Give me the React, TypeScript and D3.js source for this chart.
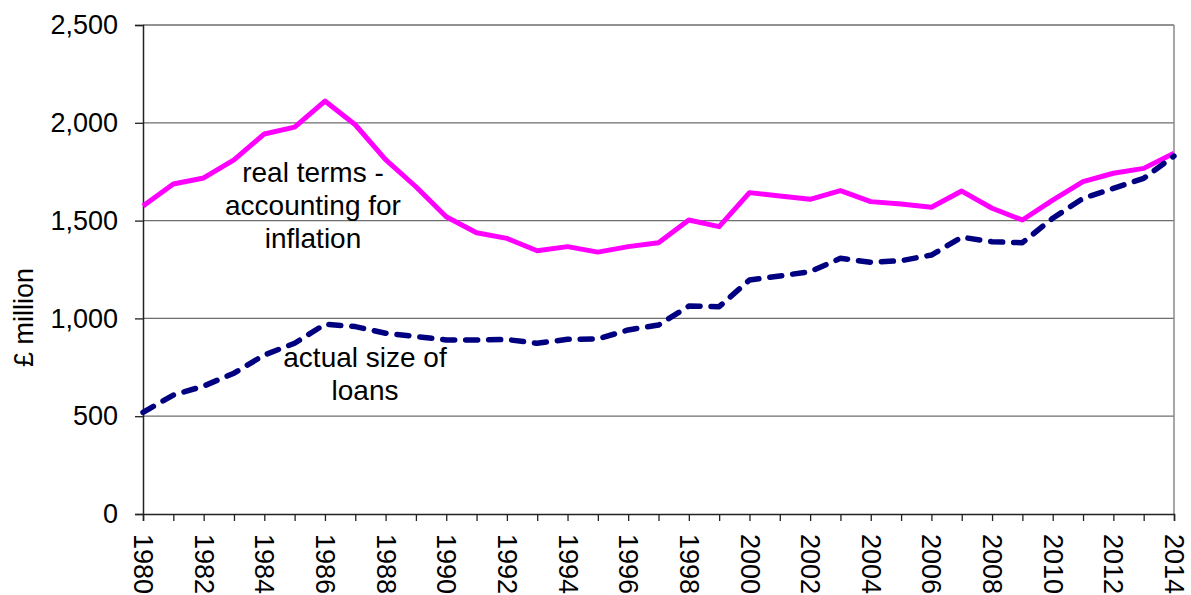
import React, { useEffect, useRef } from 'react';
import * as d3 from 'd3';

const years = d3.range(1980, 2015);

// real terms - accounting for inflation (£ million)
const realTerms = [
  1575, 1687, 1718, 1810, 1943, 1978, 2111, 1990, 1812, 1673,
  1520, 1438, 1409, 1346, 1367, 1339, 1367, 1387, 1503, 1469,
  1643, 1626, 1609, 1653, 1597, 1585, 1568, 1651, 1563, 1503,
  1605, 1699, 1742, 1767, 1844,
];

// actual size of loans (£ million)
const actualSize = [
  520, 608, 654, 720, 813, 873, 970, 958, 924, 907,
  890, 890, 892, 873, 893, 895, 941, 966, 1063, 1060,
  1196, 1217, 1239, 1307, 1287, 1295, 1324, 1415, 1392, 1387,
  1512, 1614, 1665, 1716, 1830,
];

const yTicks = [0, 500, 1000, 1500, 2000, 2500];

const W = 1191;
const H = 595;
const margin = { top: 25, right: 17, bottom: 81, left: 143 };
const FONT = '"Liberation Sans", Arial, sans-serif';

const App: React.FC = () => {
  const svgRef = useRef<SVGSVGElement>(null);

  useEffect(() => {
    if (!svgRef.current) return;
    const svg = d3.select(svgRef.current);
    svg.selectAll('*').remove();

    const x = d3.scaleLinear()
      .domain([1980, 2014])
      .range([margin.left, W - margin.right]);
    const y = d3.scaleLinear()
      .domain([0, 2500])
      .range([H - margin.bottom, margin.top]);

    // gridlines
    svg.append('g')
      .selectAll('line')
      .data(yTicks.filter(t => t > 0))
      .enter().append('line')
      .attr('x1', x(1980))
      .attr('x2', x(2014))
      .attr('y1', d => y(d))
      .attr('y2', d => y(d))
      .attr('stroke', '#6e6e6e')
      .attr('stroke-width', 1.3);

    // right border of plot area
    svg.append('line')
      .attr('x1', x(2014)).attr('x2', x(2014))
      .attr('y1', y(2500)).attr('y2', y(0))
      .attr('stroke', '#8a8a8a')
      .attr('stroke-width', 1.5);

    // y axis
    const yAxis = svg.append('g')
      .attr('transform', `translate(${x(1980)},0)`)
      .call(d3.axisLeft(y).tickValues(yTicks).tickSize(8).tickPadding(17)
        .tickFormat(d => d3.format(',')(d as number)));
    yAxis.select('.domain').attr('stroke', '#222').attr('stroke-width', 1.5);
    yAxis.selectAll('.tick line').attr('stroke', '#222').attr('stroke-width', 1.3);
    yAxis.selectAll('.tick text')
      .attr('font-family', FONT)
      .attr('font-size', 27)
      .attr('fill', '#000');

    // x axis
    const xAxis = svg.append('g')
      .attr('transform', `translate(0,${y(0)})`)
      .call(d3.axisBottom(x).tickValues(years).tickSize(7)
        .tickFormat(d => ((d as number) % 2 === 0 ? String(d) : '')));
    xAxis.select('.domain').attr('stroke', '#222').attr('stroke-width', 1.5);
    xAxis.selectAll('.tick line').attr('stroke', '#222').attr('stroke-width', 1.3);
    xAxis.selectAll('.tick text')
      .attr('font-family', FONT)
      .attr('font-size', 27)
      .attr('fill', '#000')
      .attr('text-anchor', 'start')
      .attr('dy', '0.35em')
      .attr('y', 0)
      .attr('transform', 'translate(0,20) rotate(90)');

    // y axis title
    svg.append('text')
      .attr('transform', `translate(33,${(y(0) + y(2500)) / 2 + 48}) rotate(-90)`)
      .attr('text-anchor', 'middle')
      .attr('font-family', FONT)
      .attr('font-size', 27)
      .text('£ million');

    const line = d3.line<number>()
      .x((_d, i) => x(years[i]))
      .y(d => y(d));

    svg.append('path')
      .datum(realTerms)
      .attr('d', line)
      .attr('fill', 'none')
      .attr('stroke', '#ff00ff')
      .attr('stroke-width', 5)
      .attr('stroke-linejoin', 'round');

    svg.append('path')
      .datum(actualSize)
      .attr('d', line)
      .attr('fill', 'none')
      .attr('stroke', '#000080')
      .attr('stroke-width', 5.5)
      .attr('stroke-dasharray', '12 11')
      .attr('stroke-linecap', 'round')
      .attr('stroke-linejoin', 'round');

    // annotations
    const notes = [
      { lines: ['real terms -', 'accounting for', 'inflation'], x: 313, y: 182 },
      { lines: ['actual size of', 'loans'], x: 365, y: 367 },
    ];
    notes.forEach(n => {
      svg.append('text')
        .attr('font-family', FONT)
        .attr('font-size', 28)
        .attr('text-anchor', 'middle')
        .selectAll('tspan')
        .data(n.lines)
        .enter().append('tspan')
        .attr('x', n.x)
        .attr('y', (_d, i) => n.y + i * 33)
        .text(d => d);
    });
  }, []);

  return (
    <svg
      ref={svgRef}
      width={W}
      height={H}
      style={{ position: 'absolute', left: 0, top: 0, background: '#fff' }}
    />
  );
};

export default App;
